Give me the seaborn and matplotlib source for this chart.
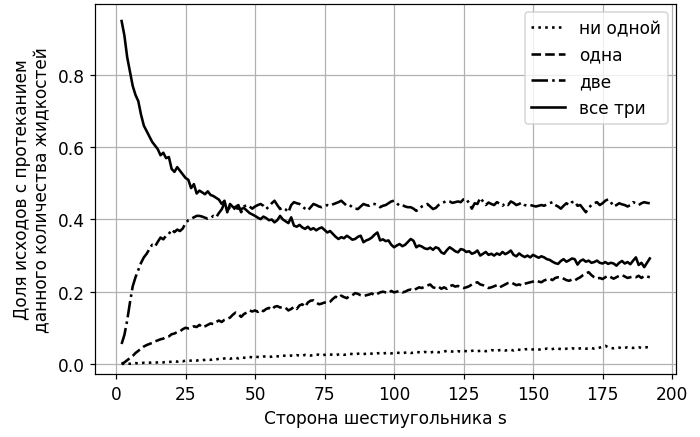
import matplotlib
matplotlib.use("Agg")
import matplotlib.pyplot as plt
import seaborn as sns
import numpy as np

# Side of the hexagon
s = list(range(2, 193))

# "ни одной" (none)
none_ = [
    0.0, 0.0, 0.001, 0.0, 0.001, 0.002, 0.001, 0.002, 0.003, 0.002,
    0.003, 0.004, 0.003, 0.004, 0.005, 0.004, 0.006, 0.005, 0.006, 0.007,
    0.006, 0.008, 0.007, 0.009, 0.008, 0.009, 0.01, 0.009, 0.011, 0.01,
    0.011, 0.012, 0.011, 0.013, 0.012, 0.014, 0.013, 0.015, 0.016, 0.014,
    0.016, 0.017, 0.015, 0.018, 0.017, 0.016, 0.019, 0.018, 0.02, 0.019,
    0.018, 0.02, 0.021, 0.019, 0.02, 0.022, 0.021, 0.02, 0.023, 0.022,
    0.021, 0.023, 0.022, 0.024, 0.023, 0.022, 0.025, 0.024, 0.023, 0.024,
    0.026, 0.025, 0.023, 0.025, 0.027, 0.026, 0.025, 0.024, 0.026, 0.027,
    0.025, 0.026, 0.028, 0.027, 0.026, 0.028, 0.029, 0.027, 0.028, 0.03,
    0.028, 0.027, 0.029, 0.03, 0.028, 0.03, 0.031, 0.029, 0.03, 0.031,
    0.03, 0.029, 0.031, 0.032, 0.03, 0.031, 0.033, 0.032, 0.031, 0.033,
    0.032, 0.031, 0.033, 0.034, 0.032, 0.033, 0.034, 0.036, 0.035, 0.034,
    0.033, 0.035, 0.034, 0.036, 0.035, 0.034, 0.036, 0.037, 0.035, 0.036,
    0.037, 0.035, 0.036, 0.038, 0.037, 0.036, 0.038, 0.039, 0.037, 0.038,
    0.039, 0.037, 0.04, 0.039, 0.038, 0.04, 0.041, 0.039, 0.04, 0.041,
    0.04, 0.039, 0.041, 0.042, 0.04, 0.041, 0.043, 0.042, 0.041, 0.04,
    0.042, 0.041, 0.043, 0.042, 0.041, 0.043, 0.044, 0.042, 0.043, 0.044,
    0.042, 0.043, 0.045, 0.048, 0.05, 0.046, 0.044, 0.043, 0.044, 0.045,
    0.043, 0.044, 0.046, 0.045, 0.044, 0.045, 0.046, 0.044, 0.045, 0.046,
    0.045,
]

# "одна" (one)
one = [
    0.0, 0.004, 0.01, 0.016, 0.022, 0.03, 0.036, 0.042, 0.048, 0.052,
    0.055, 0.058, 0.062, 0.065, 0.068, 0.07, 0.074, 0.076, 0.082, 0.084,
    0.088, 0.09, 0.096, 0.1, 0.098, 0.1, 0.104, 0.102, 0.108, 0.101,
    0.104, 0.108, 0.112, 0.11, 0.116, 0.12, 0.116, 0.122, 0.125, 0.128,
    0.136, 0.142, 0.138, 0.13, 0.138, 0.142, 0.148, 0.145, 0.148, 0.144,
    0.15, 0.146, 0.152, 0.155, 0.15, 0.158, 0.16, 0.156, 0.158, 0.155,
    0.148, 0.152, 0.158, 0.152, 0.162, 0.165, 0.158, 0.17, 0.175, 0.176,
    0.17, 0.165, 0.167, 0.17, 0.168, 0.172, 0.18, 0.186, 0.182, 0.189,
    0.185, 0.182, 0.188, 0.19, 0.196, 0.194, 0.19, 0.188, 0.19, 0.192,
    0.195, 0.19, 0.194, 0.198, 0.2, 0.198, 0.196, 0.202, 0.198, 0.2,
    0.202, 0.198, 0.2, 0.204, 0.206, 0.203, 0.208, 0.212, 0.21, 0.214,
    0.217, 0.22, 0.212, 0.21, 0.214, 0.208, 0.212, 0.208, 0.215, 0.218,
    0.214, 0.216, 0.212, 0.21, 0.212, 0.215, 0.22, 0.224, 0.226, 0.22,
    0.218, 0.214, 0.21, 0.212, 0.215, 0.218, 0.212, 0.216, 0.22, 0.224,
    0.226, 0.222, 0.218, 0.22, 0.217, 0.222, 0.224, 0.226, 0.228, 0.231,
    0.228, 0.226, 0.231, 0.234, 0.236, 0.232, 0.238, 0.24, 0.24, 0.236,
    0.232, 0.23, 0.234, 0.231, 0.236, 0.24, 0.246, 0.25, 0.254, 0.246,
    0.24, 0.236, 0.238, 0.235, 0.24, 0.244, 0.24, 0.236, 0.24, 0.244,
    0.246, 0.242, 0.238, 0.24, 0.242, 0.24, 0.244, 0.238, 0.244, 0.242,
    0.24,
]

# "две" (two)
two = [
    0.055, 0.08, 0.12, 0.17, 0.215, 0.24, 0.26, 0.28, 0.295, 0.305,
    0.318, 0.33, 0.325, 0.338, 0.35, 0.345, 0.355, 0.36, 0.372, 0.365,
    0.372, 0.368, 0.375, 0.39, 0.398, 0.402, 0.406, 0.41, 0.41, 0.408,
    0.405, 0.402, 0.404, 0.41, 0.406, 0.418, 0.428, 0.445, 0.438, 0.43,
    0.425, 0.435, 0.44, 0.42, 0.436, 0.44, 0.436, 0.43, 0.436, 0.44,
    0.443, 0.438, 0.429, 0.436, 0.445, 0.452, 0.44, 0.429, 0.433, 0.428,
    0.42, 0.44, 0.448, 0.445, 0.443, 0.436, 0.43, 0.425, 0.434, 0.443,
    0.44, 0.436, 0.434, 0.437, 0.44, 0.438, 0.442, 0.445, 0.448, 0.452,
    0.445, 0.438, 0.44, 0.434, 0.43, 0.429, 0.436, 0.443, 0.44, 0.438,
    0.443, 0.443, 0.44, 0.434, 0.438, 0.44, 0.445, 0.45, 0.452, 0.445,
    0.438, 0.44, 0.436, 0.434, 0.434, 0.43, 0.424, 0.428, 0.436, 0.44,
    0.443, 0.436, 0.429, 0.432, 0.44, 0.445, 0.448, 0.452, 0.45, 0.446,
    0.448, 0.45, 0.448, 0.456, 0.457, 0.445, 0.43, 0.445, 0.443, 0.46,
    0.45, 0.44, 0.447, 0.443, 0.44, 0.448, 0.444, 0.438, 0.445, 0.44,
    0.45, 0.446, 0.44, 0.443, 0.447, 0.44, 0.438, 0.44, 0.438, 0.436,
    0.438, 0.44, 0.438, 0.442, 0.445, 0.448, 0.44, 0.436, 0.43, 0.438,
    0.445, 0.44, 0.448, 0.45, 0.438, 0.44, 0.43, 0.42, 0.432, 0.44,
    0.445, 0.448, 0.44, 0.445, 0.452, 0.456, 0.448, 0.436, 0.44, 0.445,
    0.442, 0.44, 0.436, 0.44, 0.448, 0.445, 0.44, 0.445, 0.448, 0.446,
    0.445,
]

# "все три" (all three)
three = [
    0.95, 0.91, 0.85, 0.81, 0.77, 0.745, 0.728, 0.69, 0.66, 0.645,
    0.63, 0.615, 0.605, 0.595, 0.578, 0.585, 0.57, 0.573, 0.54, 0.532,
    0.545, 0.535, 0.525, 0.515, 0.51, 0.487, 0.498, 0.472, 0.48, 0.475,
    0.47, 0.478, 0.468, 0.465, 0.46, 0.455, 0.443, 0.452, 0.42, 0.443,
    0.435, 0.432, 0.43, 0.429, 0.432, 0.425, 0.418, 0.414, 0.41, 0.405,
    0.401, 0.408, 0.404, 0.398, 0.4, 0.392, 0.398, 0.41, 0.4, 0.395,
    0.39, 0.406, 0.383, 0.38, 0.385, 0.378, 0.374, 0.38, 0.372, 0.376,
    0.37, 0.375, 0.378, 0.371, 0.364, 0.368, 0.36, 0.352, 0.346, 0.351,
    0.348, 0.355, 0.35, 0.344, 0.346, 0.352, 0.355, 0.337, 0.342, 0.345,
    0.35, 0.358, 0.364, 0.342, 0.345, 0.34, 0.342, 0.33, 0.323, 0.328,
    0.332, 0.326, 0.33, 0.338, 0.346, 0.341, 0.323, 0.328, 0.325, 0.32,
    0.318, 0.322, 0.316, 0.323, 0.32, 0.309, 0.305, 0.315, 0.323, 0.318,
    0.312, 0.309, 0.318, 0.316, 0.31, 0.312, 0.305, 0.308, 0.314, 0.3,
    0.305, 0.31, 0.302, 0.305, 0.3, 0.306, 0.302, 0.31, 0.304, 0.308,
    0.314, 0.302, 0.298, 0.306, 0.3, 0.296, 0.3, 0.295, 0.302, 0.298,
    0.294, 0.298, 0.295, 0.29, 0.288, 0.283, 0.279, 0.277, 0.285, 0.29,
    0.283, 0.287, 0.292, 0.29, 0.275, 0.285, 0.289, 0.283, 0.286, 0.28,
    0.282, 0.286, 0.28, 0.278, 0.282, 0.277, 0.28, 0.278, 0.272, 0.28,
    0.285, 0.278, 0.282, 0.276, 0.286, 0.295, 0.274, 0.28, 0.268, 0.28,
    0.292,
]

labels = ["ни одной", "одна", "две", "все три"]
styles = [":", "--", "-.", "-"]
series = [none_, one, two, three]

plt.rcParams["font.size"] = 11.2

fig, ax = plt.subplots(figsize=(6.4, 4.004), dpi=109.375)
fig.subplots_adjust(left=0.136, right=0.966, top=0.989, bottom=0.144)

for vals, lab, ls in zip(series, labels, styles):
    n = min(len(s), len(vals))
    sns.lineplot(x=s[:n], y=vals[:n], ax=ax, color="black", linestyle=ls,
                 linewidth=1.7, label=lab)

ax.grid(True, color="#b0b0b0", linewidth=0.8)
ax.set_axisbelow(True)
ax.set_xlim(-7.5, 201.5)
ax.set_ylim(-0.028, 0.9975)
ax.set_xticks([0, 25, 50, 75, 100, 125, 150, 175, 200])
ax.set_yticks([0.0, 0.2, 0.4, 0.6, 0.8])
ax.set_xlabel("Сторона шестиугольника s")
ax.set_ylabel("Доля исходов с протеканием\nданного количества жидкостей")
ax.legend(loc="upper right")

fig.savefig("out.png", dpi=109.375)
